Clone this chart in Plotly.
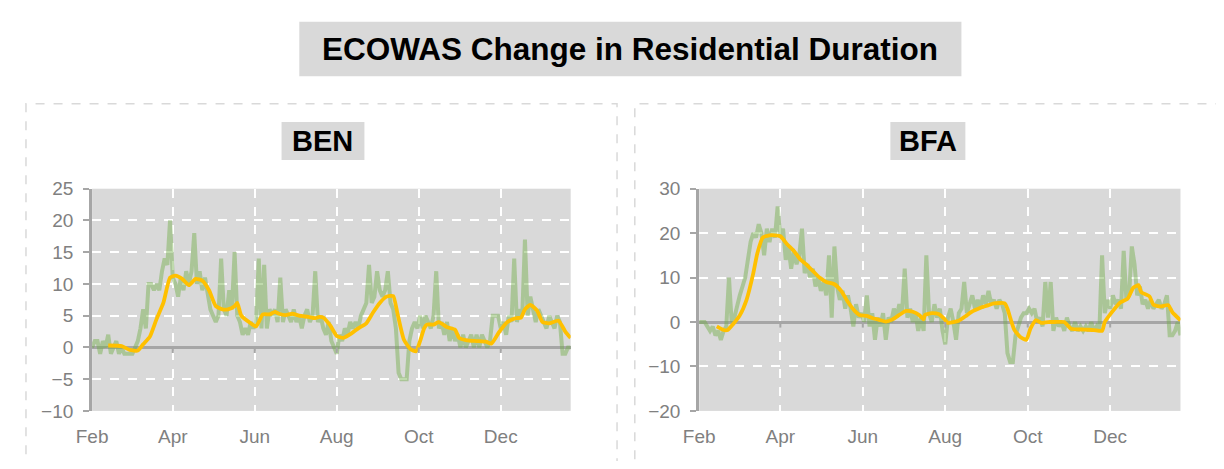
import pandas as pd
import plotly.graph_objects as go

# Target window is 1224x469; the page body keeps its default 8px margin,
# so the figure itself is 16px smaller in each direction and every position
# below is given in window pixels and converted with the offset.
WIN_W, WIN_H = 1224, 469
PAGE_MARGIN = 8
W, H = WIN_W - 2 * PAGE_MARGIN, WIN_H - 2 * PAGE_MARGIN

START = pd.Timestamp("2020-02-15")
END = pd.Timestamp("2021-02-05")
RAW_STEP_DAYS = 2

month_ticks = ["2020-02-15", "2020-04-15", "2020-06-15", "2020-08-15", "2020-10-15", "2020-12-15"]
month_labels = ["Feb", "Apr", "Jun", "Aug", "Oct", "Dec"]

# Daily change in residential duration (sampled every 2 days from Feb 15, 2020)
ben_raw = [
    0, 1, 1, -1, 1, 0, 2, -1, 0, 1,
    -1, 0, -1, -1, -1, -1, 0, 1, 3, 6,
    3, 10, 10, 9, 10, 9, 12, 14, 13, 20,
    11, 10, 8, 11, 9, 12, 10, 12, 18, 10,
    12, 9, 11, 8, 6, 5, 4, 5, 14, 6,
    5, 9, 6, 15, 5, 4, 2, 3, 2, 4,
    3, 4, 14, 3, 13, 3, 6, 5, 6, 4,
    11, 4, 6, 5, 4, 6, 4, 5, 3, 5,
    6, 4, 5, 12, 4, 5, 3, 2, 4, 1,
    0, -1, 2, 1, 3, 2, 4, 3, 4, 3,
    5, 6, 7, 13, 7, 8, 12, 9, 8, 9,
    12, 7, 6, 3, -4, -5, -5, -5, 1, 3,
    4, 3, 5, 3, 5, 4, 3, 5, 12, 3,
    4, 2, 4, 1, 3, 1, 2, 0, 2, 0,
    1, 2, 0, 2, 0, 2, 1, 0, 1, 5,
    5, 5, 3, 4, 2, 5, 4, 14, 4, 6,
    5, 17, 5, 8, 6, 4, 6, 5, 4, 3,
    5, 4, 3, 5, 4, -1, -1, 0, 0,
]

bfa_raw = [
    0, 0, 0, -1, -2, -1, -3, -2, -4, -2,
    -1, 10, 0, 1, 4, 6, 8, 10, 14, 18,
    20, 19, 22, 20, 15, 21, 18, 21, 19, 26,
    19, 21, 14, 17, 12, 16, 13, 15, 21, 11,
    13, 10, 12, 8, 10, 7, 9, 6, 15, 1,
    17, 8, 5, 7, 3, 6, 3, -1, 4, 1,
    2, 0, 6, -1, 2, -4, 1, -1, 2, -4,
    1, 0, 3, 1, 4, 2, 12, 1, 3, 0,
    2, -2, 1, -2, 15, 2, 0, 4, 1, 3,
    -2, -5, 1, 3, 0, -4, 2, 3, 9, 2,
    4, 6, 3, 5, 3, 6, 4, 7, 4, 5,
    3, 5, 4, 2, -7, -9, -9, -3, -1, 1,
    2, 2, 3, 2, 3, 0, 1, -1, 9, 1,
    9, -2, 1, -1, 0, -2, 1, -1, -2, 0,
    -2, -1, -2, -1, -2, 0, -2, -1, -2, 15,
    2, 5, 3, 6, 4, 5, 3, 16, 5, 6,
    17, 13, 6, 8, 4, 5, 3, 5, 3, 4,
    5, 3, 4, 6, -3, -3, -2, 0, -3,
]

# Smoothed (moving average) series, day offsets from Feb 15, 2020
ben_avg_day = [12, 22, 28, 34, 38, 43, 48, 53, 58, 62, 67, 72, 77, 82, 87, 92, 97, 101, 106, 108,
               111, 118, 122, 127, 132, 136, 139, 144, 149, 154, 161, 166, 169, 172, 177, 182, 187,
               193, 198, 204, 209, 214, 219, 224, 227, 232, 237, 241, 244, 247, 249, 254, 258, 264,
               270, 273, 279, 286, 293, 297, 303, 309, 315, 319, 322, 326, 331, 335, 340, 347, 352, 356]
ben_avg = [0.3, 0.2, -0.4, -0.5, 0.5, 1.7, 4.5, 7, 11, 11.3, 10.8, 9.8, 10.8, 10.5, 9, 6.5, 6, 6, 6.5, 7,
           5, 3.8, 3.3, 5.2, 5.2, 5.6, 5.3, 5.1, 5.3, 5, 4.8, 4.6, 4.8, 4.7, 3.5, 1.8, 1.5,
           2.2, 3, 3.8, 5.5, 7, 8, 8.1, 5.5, 1.2, -0.3, -0.6, 1, 3, 3.6, 3.6, 4, 3.2,
           2.8, 1.5, 1.1, 1, 0.9, 0.6, 2.5, 4, 4.6, 4.7, 6, 6.7, 5.8, 4, 3.8, 4.2, 2.5, 1.5]

bfa_avg_day = [13, 18, 21, 25, 30, 35, 40, 43, 47, 52, 56, 60, 65, 70, 75, 79, 84, 89, 94, 100,
               105, 110, 115, 119, 124, 129, 133, 138, 143, 148, 153, 158, 163, 166, 167, 172, 177,
               181, 184, 192, 197, 201, 209, 214, 218, 226, 228, 233, 238, 242, 245, 249, 253, 258,
               263, 270, 275, 285, 292, 298, 300, 306, 311, 317, 321, 325, 327, 333, 336, 341, 347, 350, 356]
bfa_avg = [-1, -1.8, -1.8, -0.5, 1.5, 5, 11, 15.5, 19, 19.5, 19.5, 19.3, 17.5, 16, 14, 13, 11.5, 10, 9, 8.5,
           7, 4.5, 2.5, 1.5, 1.4, 0.8, 0.5, 0.1, 0.6, 1.6, 2.5, 2.3, 1.5, 0.6, 1.6, 2, 1.8,
           0.8, -0.2, 0.3, 1.3, 2.2, 3.3, 3.8, 4.2, 4.2, 3, -1.7, -3.5, -4, -1.5, 0.4, -0.2, 0,
           0, 0, -1.5, -1.7, -1.8, -2, 0, 2.5, 4.3, 5.3, 7.7, 8.3, 6.7, 5.8, 3.9, 3.5, 3.8, 2.2, 0.4]

panels = [
    dict(code="BEN", raw=ben_raw, avg_day=ben_avg_day, avg=ben_avg, yrange=[-10, 25], dtick=5,
         px=(77, 562), box=(269, 353), border=(10, 609)),
    dict(code="BFA", raw=bfa_raw, avg_day=bfa_avg_day, avg=bfa_avg, yrange=[-20, 30], dtick=10,
         px=(692.3, 1180), box=(886, 962), border=(627, 1260)),
]

GREEN = "rgba(112,173,71,0.45)"
YELLOW = "#FFC000"
AXIS_GREY = "#a6a6a6"
TEXT_GREY = "#808080"
FONT = "Liberation Sans, Arial, sans-serif"


def px_x(v):
    return (v - PAGE_MARGIN) / W


def px_y(v):
    return 1 - (v - PAGE_MARGIN) / H


fig = go.Figure()
shapes = []
annotations = []

plot_top, plot_bottom = 187, 420

for i, p in enumerate(panels):
    n = "" if i == 0 else str(i + 1)
    xa, ya = "x" + n, "y" + n
    raw_dates = [START + pd.Timedelta(days=RAW_STEP_DAYS * k) for k in range(len(p["raw"]))]
    avg_dates = [START + pd.Timedelta(days=d) for d in p["avg_day"]]
    fig.add_trace(go.Scatter(x=raw_dates, y=p["raw"], xaxis=xa, yaxis=ya, mode="lines",
                             line=dict(color=GREEN, width=4), hoverinfo="skip", showlegend=False))
    fig.add_trace(go.Scatter(x=avg_dates, y=p["avg"], xaxis=xa, yaxis=ya, mode="lines",
                             line=dict(color=YELLOW, width=3.8, shape="spline", smoothing=0.5),
                             hoverinfo="skip", showlegend=False))

    fig.update_layout(**{
        "xaxis" + n: dict(
            domain=[px_x(p["px"][0]), px_x(p["px"][1])], anchor=ya, type="date",
            range=[START, END], tickvals=month_ticks, ticktext=month_labels,
            showgrid=True, gridcolor="white", griddash="dash", gridwidth=1.5,
            ticks="", showline=False, zeroline=False,
            tickfont=dict(size=19, color=TEXT_GREY, family=FONT), ticklabelstandoff=12,
        ),
        "yaxis" + n: dict(
            domain=[px_y(plot_bottom), px_y(plot_top)], anchor=xa, range=p["yrange"],
            dtick=p["dtick"], tick0=0,
            showgrid=True, gridcolor="white", griddash="dash", gridwidth=1.5,
            zeroline=True, zerolinecolor=AXIS_GREY, zerolinewidth=3,
            showline=True, linecolor=AXIS_GREY, linewidth=3,
            ticks="outside", ticklen=6, tickwidth=2, tickcolor=AXIS_GREY,
            tickfont=dict(size=19, color=TEXT_GREY, family=FONT), ticklabelstandoff=6,
        ),
    })

    # small category tick marks on the zero line
    span = p["yrange"][1] - p["yrange"][0]
    for t in month_ticks[1:]:
        shapes.append(dict(type="line", xref=xa, yref=ya, x0=t, x1=t, y0=0, y1=-0.025 * span,
                           line=dict(color=AXIS_GREY, width=2), layer="above"))

    # dashed outer panel border
    shapes.append(dict(type="rect", xref="paper", yref="paper",
                       x0=px_x(p["border"][0]), x1=px_x(p["border"][1]),
                       y0=px_y(520), y1=px_y(98),
                       line=dict(color="#d9d9d9", width=1.5, dash="dash"), layer="below"))
    # panel title box
    shapes.append(dict(type="rect", xref="paper", yref="paper",
                       x0=px_x(p["box"][0]), x1=px_x(p["box"][1]), y0=px_y(157), y1=px_y(117),
                       fillcolor="#d9d9d9", line=dict(width=0), layer="below"))
    annotations.append(dict(text="<b>" + p["code"] + "</b>", xref="paper", yref="paper",
                            x=px_x((p["box"][0] + p["box"][1]) / 2), y=px_y(137),
                            xanchor="center", yanchor="middle", showarrow=False,
                            font=dict(size=29, color="black", family=FONT)))

# main title box
shapes.append(dict(type="rect", xref="paper", yref="paper",
                   x0=px_x(287), x1=px_x(958), y0=px_y(69), y1=px_y(12),
                   fillcolor="#d9d9d9", line=dict(width=0), layer="below"))
annotations.append(dict(text="<b>ECOWAS Change in Residential Duration</b>", xref="paper", yref="paper",
                        x=px_x(622.5), y=px_y(41), xanchor="center", yanchor="middle", showarrow=False,
                        font=dict(size=31.5, color="black", family=FONT)))

fig.update_layout(
    width=W, height=H, margin=dict(l=0, r=0, t=0, b=0),
    paper_bgcolor="white", plot_bgcolor="#d9d9d9",
    shapes=shapes, annotations=annotations, showlegend=False,
    font=dict(family=FONT),
)

fig.write_html("out.html", config={"displayModeBar": False})
